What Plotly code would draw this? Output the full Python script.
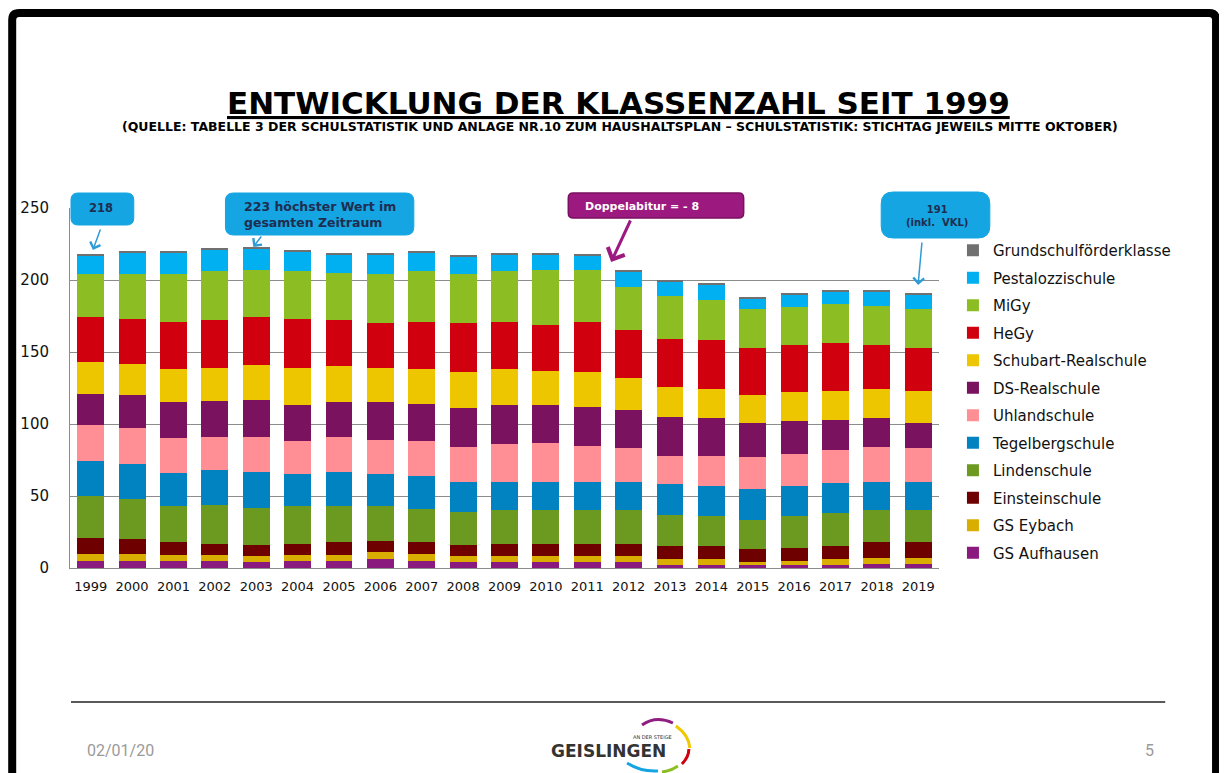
import plotly.graph_objects as go

years = [str(y) for y in range(1999, 2020)]

# Klassen je Schule (1999 .. 2019), von unten nach oben gestapelt
gs_aufhausen = [5, 5, 5, 5, 4, 5, 5, 6, 5, 4, 4, 4, 4, 4, 2, 2, 2, 2, 2, 3, 3]
gs_eybach = [5, 5, 4, 4, 4, 4, 4, 5, 5, 4, 4, 4, 4, 4, 4, 4, 2, 3, 4, 4, 4]
einsteinschule = [11, 10, 9, 8, 8, 8, 9, 8, 8, 8, 9, 9, 9, 9, 9, 9, 9, 9, 9, 11, 11]
lindenschule = [29, 28, 25, 27, 26, 26, 25, 24, 23, 23, 23, 23, 23, 23, 22, 21, 20, 22, 23, 22, 22]
tegelbergschule = [24, 24, 23, 24, 25, 22, 24, 22, 23, 21, 20, 20, 20, 20, 21, 21, 22, 21, 21, 20, 20]
uhlandschule = [25, 25, 24, 23, 24, 23, 24, 24, 24, 24, 26, 27, 25, 23, 20, 21, 22, 22, 23, 24, 23]
ds_realschule = [22, 23, 25, 25, 26, 25, 24, 26, 26, 27, 27, 26, 27, 27, 27, 26, 24, 23, 21, 20, 18]
schubart_realschule = [22, 22, 23, 23, 24, 26, 25, 24, 24, 25, 25, 24, 24, 22, 21, 20, 19, 20, 20, 20, 22]
hegy = [31, 31, 33, 33, 33, 34, 32, 31, 33, 34, 33, 32, 35, 33, 33, 34, 33, 33, 33, 31, 30]
migy = [30, 31, 33, 34, 33, 33, 33, 34, 35, 34, 35, 38, 36, 30, 30, 28, 27, 26, 27, 27, 27]
pestalozzischule = [13, 15, 15, 15, 15, 14, 13, 14, 13, 12, 12, 11, 10, 11, 10, 11, 7, 9, 9, 10, 10]
grundschulfoerderklasse = [1] * 21

series = [
    ("GS Aufhausen", gs_aufhausen, "#8b1a7e"),
    ("GS Eybach", gs_eybach, "#d9ae00"),
    ("Einsteinschule", einsteinschule, "#6e0000"),
    ("Lindenschule", lindenschule, "#6c9a20"),
    ("Tegelbergschule", tegelbergschule, "#0083c0"),
    ("Uhlandschule", uhlandschule, "#ff8f95"),
    ("DS-Realschule", ds_realschule, "#7b1260"),
    ("Schubart-Realschule", schubart_realschule, "#eec600"),
    ("HeGy", hegy, "#d0000f"),
    ("MiGy", migy, "#8cbe23"),
    ("Pestalozzischule", pestalozzischule, "#00b0f0"),
    ("Grundschulförderklasse", grundschulfoerderklasse, "#707070"),
]

FONT = "DejaVu Sans"
NAVY = "#1f2d50"
CALLOUT_BLUE = "#14a5e2"
PURPLE = "#9c1a80"

# page is drawn with the browser's 8px body margin, so the figure is 8px smaller
OFF = 8
W, H = 1227 - OFF, 773 - OFF
# plot area in page pixels (used to place the slide decoration)
PL, PR, PT, PB = 67, 939, 208, 568


def px(x):
    return (x - PL) / (PR - PL)


def py(y):
    return (PB - y) / (PB - PT)


def rrect(x0, y0, x1, y1, r):
    return (
        f"M{px(x0 + r)},{py(y0)} L{px(x1 - r)},{py(y0)} "
        f"Q{px(x1)},{py(y0)} {px(x1)},{py(y0 + r)} L{px(x1)},{py(y1 - r)} "
        f"Q{px(x1)},{py(y1)} {px(x1 - r)},{py(y1)} L{px(x0 + r)},{py(y1)} "
        f"Q{px(x0)},{py(y1)} {px(x0)},{py(y1 - r)} L{px(x0)},{py(y0 + r)} "
        f"Q{px(x0)},{py(y0)} {px(x0 + r)},{py(y0)} Z"
    )


def curve(x0, y0, cx, cy, x1, y1):
    return f"M{px(x0)},{py(y0)} Q{px(cx)},{py(cy)} {px(x1)},{py(y1)}"


fig = go.Figure()
for i, (name, values, color) in enumerate(series):
    fig.add_trace(
        go.Bar(
            x=years,
            y=values,
            name=name,
            legendgroup=name,
            legendrank=len(series) - i,
            marker=dict(color=color, line=dict(width=0)),
            hovertemplate="%{x}: %{y}<extra>" + name + "</extra>",
        )
    )

shapes = [
    # slide frame
    dict(type="path", path=(f"M{px(9)},{py(800)} L{px(9)},{py(20)} Q{px(9)},{py(13)} {px(16)},{py(13)} "
                            f"L{px(1210)},{py(13)} Q{px(1217)},{py(13)} {px(1217)},{py(20)} L{px(1217)},{py(800)}"),
         line=dict(color="black", width=8)),
    # footer rule
    dict(type="line", x0=px(68), x1=px(1166), y0=py(702), y1=py(702), line=dict(color="#222", width=1.5)),
    # callout boxes
    dict(type="path", path=rrect(68, 193, 131, 225, 7), fillcolor=CALLOUT_BLUE, line=dict(color=CALLOUT_BLUE, width=1)),
    dict(type="path", path=rrect(223, 193, 412, 235, 8), fillcolor=CALLOUT_BLUE, line=dict(color=CALLOUT_BLUE, width=1)),
    dict(type="path", path=rrect(567, 193, 743, 218, 5), fillcolor=PURPLE, line=dict(color="#7a1060", width=1.5)),
    dict(type="path", path=rrect(881, 192, 990, 238, 12), fillcolor=CALLOUT_BLUE, line=dict(color=CALLOUT_BLUE, width=1)),
    # logo arcs
    dict(type="path", path=curve(641, 725, 655, 715, 672, 723), line=dict(color="#8e1e80", width=3)),
    dict(type="path", path=curve(675, 726, 688, 735, 689, 748), line=dict(color="#f0c800", width=3)),
    dict(type="path", path=curve(688, 749, 688, 757, 681, 764), line=dict(color="#d0000f", width=3)),
    dict(type="path", path=curve(677, 766, 670, 771, 661, 772), line=dict(color="#8cbe23", width=3)),
    dict(type="path", path=curve(626, 763, 640, 772, 657, 771), line=dict(color="#14a5e2", width=3)),
]

annotations = [
    dict(x=px(617), y=py(103), text="<b><u>ENTWICKLUNG DER KLASSENZAHL SEIT 1999</u></b>",
         font=dict(family=FONT, size=31, color="black")),
    dict(x=px(619), y=py(127),
         text="<b>(QUELLE: TABELLE 3 DER SCHULSTATISTIK UND ANLAGE NR.10 ZUM HAUSHALTSPLAN – "
              "SCHULSTATISTIK: STICHTAG JEWEILS MITTE OKTOBER)</b>",
         font=dict(family=FONT, size=12.5, color="black")),
    # callout texts
    dict(x=px(98), y=py(208), text="<b>218</b>", font=dict(family=FONT, size=11.5, color=NAVY)),
    dict(x=px(240), y=py(214), text="<b>223 höchster Wert im<br>gesamten Zeitraum</b>", xanchor="left", align="left",
         font=dict(family=FONT, size=12.5, color=NAVY)),
    dict(x=px(582), y=py(206), text="<b>Doppelabitur = - 8</b>", xanchor="left",
         font=dict(family=FONT, size=11, color="white")),
    dict(x=px(937), y=py(216), text="<b>191<br>(inkl.  VKL)</b>", font=dict(family=FONT, size=10, color=NAVY)),
    # arrows
    dict(x=px(90), y=py(250), ax=8, ay=-22, text="", showarrow=True, arrowhead=4, arrowsize=1.4,
         arrowwidth=1.5, arrowcolor="#2e9bd6"),
    dict(x=px(251), y=py(247), ax=9, ay=-12, text="", showarrow=True, arrowhead=4, arrowsize=1.4,
         arrowwidth=1.5, arrowcolor="#2e9bd6"),
    dict(x=px(610), y=py(262), ax=20, ay=-43, text="", showarrow=True, arrowhead=4, arrowsize=1.2,
         arrowwidth=3, arrowcolor=PURPLE),
    dict(x=px(918), y=py(285), ax=4, ay=-44, text="", showarrow=True, arrowhead=4, arrowsize=1.4,
         arrowwidth=1.5, arrowcolor="#2e9bd6"),
    # footer
    dict(x=px(118), y=py(750), text="02/01/20", font=dict(family="Liberation Sans Narrow, Roboto", size=16, color="#9a9a9a")),
    dict(x=px(1150), y=py(750), text="5", font=dict(family="Liberation Sans Narrow, Roboto", size=16, color="#9a9a9a")),
    dict(x=px(607), y=py(751), text="<b>GEISLINGEN</b>", font=dict(family=FONT, size=17, color="#333")),
    dict(x=px(652), y=py(737), text="AN DER STEIGE", font=dict(family=FONT, size=5, color="#333")),
]
for a in annotations:
    a.setdefault("xref", "paper")
    a.setdefault("yref", "paper")
    a.setdefault("showarrow", False)
    a.setdefault("xanchor", "center")
    a.setdefault("yanchor", "middle")
for s in shapes:
    s.setdefault("xref", "paper")
    s.setdefault("yref", "paper")

fig.update_layout(
    barmode="stack",
    bargap=0.35,
    width=W,
    height=H,
    margin=dict(l=PL - OFF, r=W - (PR - OFF), t=PT - OFF, b=H - (PB - OFF), pad=0),
    paper_bgcolor="white",
    plot_bgcolor="white",
    font=dict(family=FONT, color="#111"),
    showlegend=True,
    legend=dict(
        x=px(953), y=py(234), xanchor="left", yanchor="top",
        traceorder="grouped", tracegroupgap=5, maxheight=700,
        font=dict(family=FONT, size=15, color="#111"),
        bgcolor="rgba(0,0,0,0)",
    ),
    xaxis=dict(
        type="category",
        showgrid=False,
        showline=True,
        linecolor="#8c8c8c",
        linewidth=1,
        ticks="",
        tickfont=dict(family=FONT, size=13, color="#111"),
        ticklabelstandoff=6,
    ),
    yaxis=dict(
        range=[0, 250],
        tickvals=[0, 50, 100, 150, 200, 250],
        showgrid=True,
        gridcolor="#8c8c8c",
        gridwidth=1,
        showline=True,
        linecolor="#8c8c8c",
        linewidth=1,
        zeroline=False,
        ticks="",
        tickfont=dict(family=FONT, size=15, color="#111"),
        ticklabelstandoff=17,
    ),
    shapes=shapes,
    annotations=annotations,
)

fig.write_html("out.html")
